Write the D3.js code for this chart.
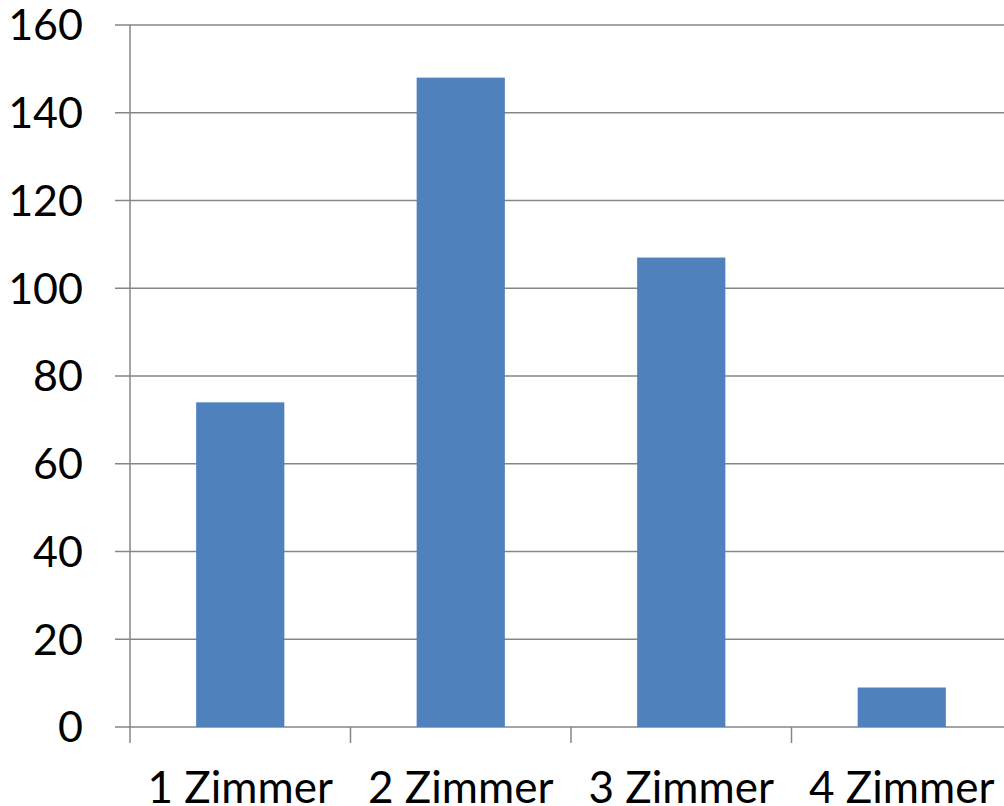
<!DOCTYPE html>
<html>
<head>
<meta charset="utf-8">
<script src="https://cdn.jsdelivr.net/npm/d3@7"></script>
<style>
  body { margin: 0; background: #fff; }
  svg { display: block; }
  text { font-family: Lato, "Open Sans", sans-serif; fill: #000; }
</style>
</head>
<body>
<div id="chart"></div>
<script>
// chart data
const categories = ["1 Zimmer", "2 Zimmer", "3 Zimmer", "4 Zimmer"];
const counts = [74, 148, 107, 9];
const yTicks = [0, 20, 40, 60, 80, 100, 120, 140, 160];

const width = 1004, height = 806;
const plot = {left: 130, top: 25, bottom: 727, step: 220.5};

const svg = d3.select("#chart").append("svg")
    .attr("width", width)
    .attr("height", height);

let y = d3.scaleLinear()
    .domain([0, 160])
    .range([plot.bottom, plot.top]);

let x = d3.scaleBand()
    .domain(categories)
    .range([plot.left, plot.left + plot.step * categories.length])
    .paddingInner(0.6)
    .paddingOuter(0.3);

// gridlines
svg.append("g")
    .selectAll("line")
    .data(yTicks)
    .enter().append("line")
    .attr("x1", plot.left - 15)
    .attr("x2", plot.left + plot.step * categories.length)
    .attr("y1", d => y(d))
    .attr("y2", d => y(d))
    .attr("stroke", "#868686")
    .attr("stroke-width", 1.5);

// bars
svg.append("g")
    .selectAll("rect")
    .data(categories)
    .enter().append("rect")
    .attr("x", d => x(d))
    .attr("y", (d, i) => y(counts[i]))
    .attr("width", x.bandwidth())
    .attr("height", (d, i) => plot.bottom - y(counts[i]))
    .attr("fill", "#4F81BD");

// y axis line
svg.append("line")
    .attr("x1", plot.left).attr("x2", plot.left)
    .attr("y1", plot.top).attr("y2", plot.bottom)
    .attr("stroke", "#868686")
    .attr("stroke-width", 1.5);

// x tick marks at band boundaries
svg.append("g")
    .selectAll("line")
    .data(categories)
    .enter().append("line")
    .attr("x1", d => x(d) - x.step() * 0.3)
    .attr("x2", d => x(d) - x.step() * 0.3)
    .attr("y1", plot.bottom)
    .attr("y2", plot.bottom + 16)
    .attr("stroke", "#868686")
    .attr("stroke-width", 1.5);

// y labels
svg.append("g")
    .selectAll("text")
    .data(yTicks)
    .enter().append("text")
    .attr("x", 83)
    .attr("y", d => y(d))
    .attr("dy", "0.36em")
    .attr("text-anchor", "end")
    .style("font-size", "43px")
    .text(d => d);

// x labels
svg.append("g")
    .selectAll("text")
    .data(categories)
    .enter().append("text")
    .attr("x", d => x(d) + x.bandwidth() / 2)
    .attr("y", 803)
    .attr("text-anchor", "middle")
    .style("font-size", "44px")
    .text(d => d);
</script>
</body>
</html>
